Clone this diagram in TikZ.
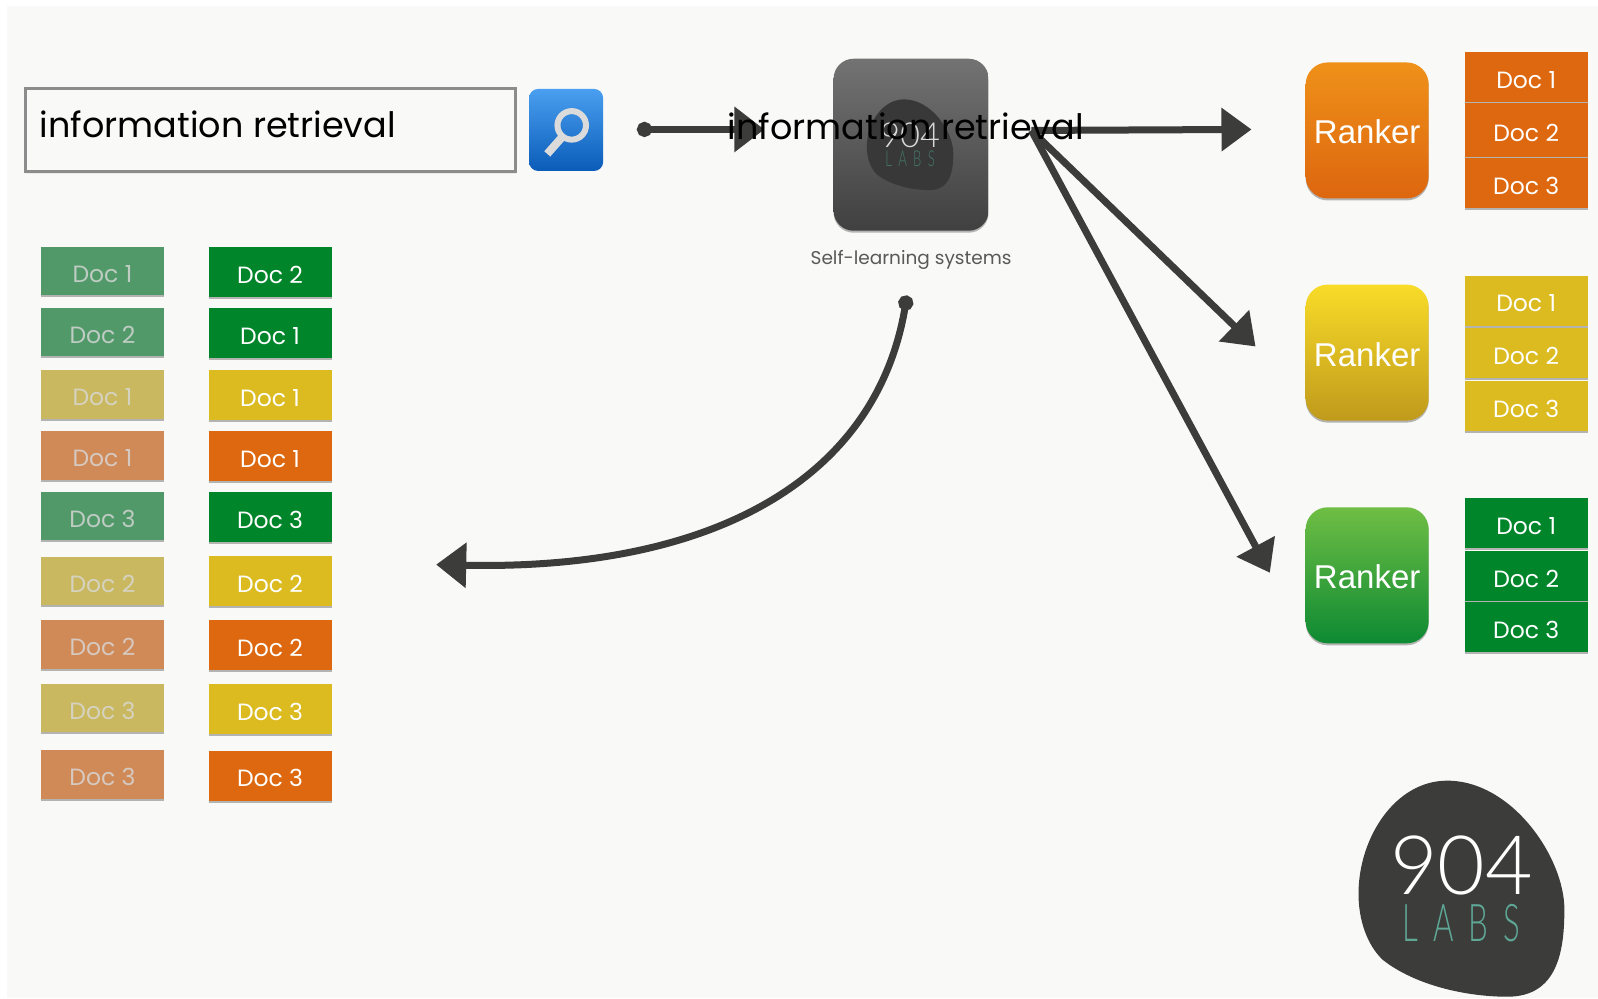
\documentclass[tikz,border=0pt]{standalone}
\usepackage{fontspec}
\usetikzlibrary{arrows.meta,shadows,shapes.geometric}
\setmainfont{Poppins}
\newfontfamily\rankfont{Liberation Sans}
\newfontfamily\logofont{Lato Light}
\newfontfamily\labsfont[LetterSpace=48]{Lato Light}
\definecolor{pagebg}{HTML}{F9F9F7}
\definecolor{ink}{HTML}{3C3C3B}
\definecolor{dgreen}{HTML}{00852A}
\definecolor{dyellow}{HTML}{DBBB20}
\definecolor{dorange}{HTML}{DD680F}
\definecolor{fgreen}{HTML}{52996A}
\definecolor{fyellow}{HTML}{C9B85F}
\definecolor{forange}{HTML}{CF8A58}
\definecolor{teal1}{HTML}{5FA896}
\tikzset{
  softshadow/.style={drop shadow={shadow xshift=0pt,shadow yshift=-2pt,opacity=.28,fill=black}},
  docbox/.style={rectangle,minimum width=123pt,minimum height=50pt,inner sep=0pt,text=white,font=\fontsize{23.5}{23.5}\selectfont,softshadow,text height=22.5pt,text depth=0pt},
  faded/.style={docbox,minimum height=48.5pt,text=white!85!black,text opacity=.8},
  ranker/.style={rectangle,rounded corners=22pt,minimum width=123pt,minimum height=136pt,inner sep=0pt,text=white,font=\rankfont\fontsize{33}{33}\selectfont,softshadow,text height=27pt,text depth=0pt},
  flow/.style={draw=ink,line width=7pt,-{Triangle[width=42pt,length=30pt]}},
  flowstart/.style={draw=ink,line width=7pt,{Circle[length=15pt]}-{Triangle[width=44pt,length=30pt]}},
  query/.style={inner sep=0pt,text=black,font=\fontsize{35}{35}\selectfont},
  logonum/.style={inner sep=0pt,font=\logofont\fontsize{82}{82}\selectfont},
  logolabs/.style={inner sep=0pt,font=\labsfont\fontsize{52}{52}\selectfont},
}
\newcommand{\blobpath}{(-14,-106) .. controls (50,-106) and (101,-30) .. (101,20) .. controls (101,60) and (95,106) .. (45,106) .. controls (5,106) and (-45,95) .. (-77,70) .. controls (-93,55) and (-101,30) .. (-101,5) .. controls (-101,-50) and (-65,-106) .. (-14,-106) -- cycle}
\begin{document}
\begin{tikzpicture}[x=1.0191pt,y=-1.0191pt]
\useasboundingbox (0,0) rectangle (1568,979.3);
\fill[white] (0,0) rectangle (1568,979.3);
\fill[pagebg] (7,6) rectangle (1568,979.3);
% search box
\node[draw=black!45,line width=3pt,fill=pagebg,minimum width=490pt,minimum height=83pt,inner sep=0pt,drop shadow={shadow xshift=0pt,shadow yshift=-2pt,opacity=.12}] (box) at (265.5,128) {};
\node[query,anchor=base west] (qleft) at (39,135) {information retrieval};
% search button
\node[rectangle,rounded corners=9pt,minimum width=74pt,minimum height=82pt,inner sep=0pt,shade,top color={rgb,255:red,74;green,159;blue,240},bottom color={rgb,255:red,10;green,92;blue,184}] (btn) at (555.5,127.5) {};
\draw[line width=6pt,draw=black!14] (561,123) circle (14);
\draw[line width=8pt,draw=black!14] (552,134) -- (537,151);
% centre box
\node[rectangle,rounded corners=20pt,minimum width=155pt,minimum height=172pt,inner sep=0pt,shade,top color=black!55,bottom color=black!75,softshadow] (sys) at (894,142) {};
\begin{scope}[shift={(893,142)},scale=.42]
  \fill[black!78] \blobpath;
  \node[logonum,transform shape,text=white!85!black] (logoa) at (0,-23) {904};
  \node[logolabs,transform shape,text=teal1!70!black] (logob) at (0,34) {\scalebox{.6}[1]{LABS}};
\end{scope}
\node[text=black!65,font=\fontsize{18.5}{18.5}\selectfont,inner sep=0pt] (cap) at (894,255) {Self-learning systems};
% rankers
\node[ranker,shade,top color={rgb,255:red,239;green,145;blue,25},bottom color={rgb,255:red,221;green,102;blue,15}] (r1) at (1341.5,128) {Ranker};
\node[ranker,shade,top color={rgb,255:red,248;green,220;blue,40},bottom color={rgb,255:red,192;green,154;blue,28}] (r2) at (1341.5,346) {Ranker};
\node[ranker,shade,top color={rgb,255:red,111;green,190;blue,68},bottom color={rgb,255:red,13;green,138;blue,51}] (r3) at (1341.5,564.5) {Ranker};
% ranked lists
\node[docbox,fill=dorange] (oa) at (1497.5,76) {Doc 1};
\node[docbox,fill=dorange,minimum height=54pt] (ob) at (1497.5,128) {Doc 2};
\node[docbox,fill=dorange,minimum height=50pt] (oc) at (1497.5,180) {Doc 3};
\node[docbox,fill=dyellow] (ya) at (1497.5,295) {Doc 1};
\node[docbox,fill=dyellow] (yb) at (1497.5,346.5) {Doc 2};
\node[docbox,fill=dyellow] (yc) at (1497.5,398.5) {Doc 3};
\node[docbox,fill=dgreen] (ga) at (1497.5,513) {Doc 1};
\node[docbox,fill=dgreen] (gb) at (1497.5,565) {Doc 2};
\node[docbox,fill=dgreen] (gc) at (1497.5,615.5) {Doc 3};
% left column, faded
\foreach \nm/\yy/\col/\lab in {a/266/fgreen/Doc 1,b/326/fgreen/Doc 2,c/387/fyellow/Doc 1,d/447/forange/Doc 1,e/506.5/fgreen/Doc 3,f/570/fyellow/Doc 2,g/632.5/forange/Doc 2,h/694.5/fyellow/Doc 3,i/760/forange/Doc 3}{
  \node[faded,fill=\col] (l\nm) at (100.5,\yy) {\lab};
}
% right column
\foreach \nm/\yy/\col/\lab in {a/267/dgreen/Doc 2,b/327/dgreen/Doc 1,c/387.5/dyellow/Doc 1,d/447.5/dorange/Doc 1,e/507.5/dgreen/Doc 3,f/570.5/dyellow/Doc 2,g/633/dorange/Doc 2,h/695.5/dyellow/Doc 3,i/761/dorange/Doc 3}{
  \node[docbox,fill=\col] (m\nm) at (265,\yy) {\lab};
}
% arrows
\coordinate (inS) at (625,127);
\coordinate (inE) at (750,127);
\coordinate (fork) at (1012,128);
\coordinate (toA) at (1228,127);
\coordinate (toB) at (1232,340);
\coordinate (toC) at (1246,562);
\coordinate (fbS) at (890,290);
\coordinate (fbE) at (428,554);
\draw[flowstart] (inS) -- (inE);
\draw[flow] (fork) -- (toA);
\draw[flow] (fork) -- (toB);
\draw[flow] (fork) -- (toC);
\draw[flowstart] (fbS) .. controls (860,470) and (700,560) .. (fbE);
\node[query,anchor=base west] (qmid) at (714,137) {information retrieval};
% big logo
\begin{scope}[shift={(1434,872)}]
  \fill[ink] \blobpath;
  \node[logonum,text=white] (biga) at (0,-23) {904};
  \node[logolabs,text=teal1] (bigb) at (0,34) {\scalebox{.6}[1]{LABS}};
\end{scope}
\end{tikzpicture}
\end{document}
